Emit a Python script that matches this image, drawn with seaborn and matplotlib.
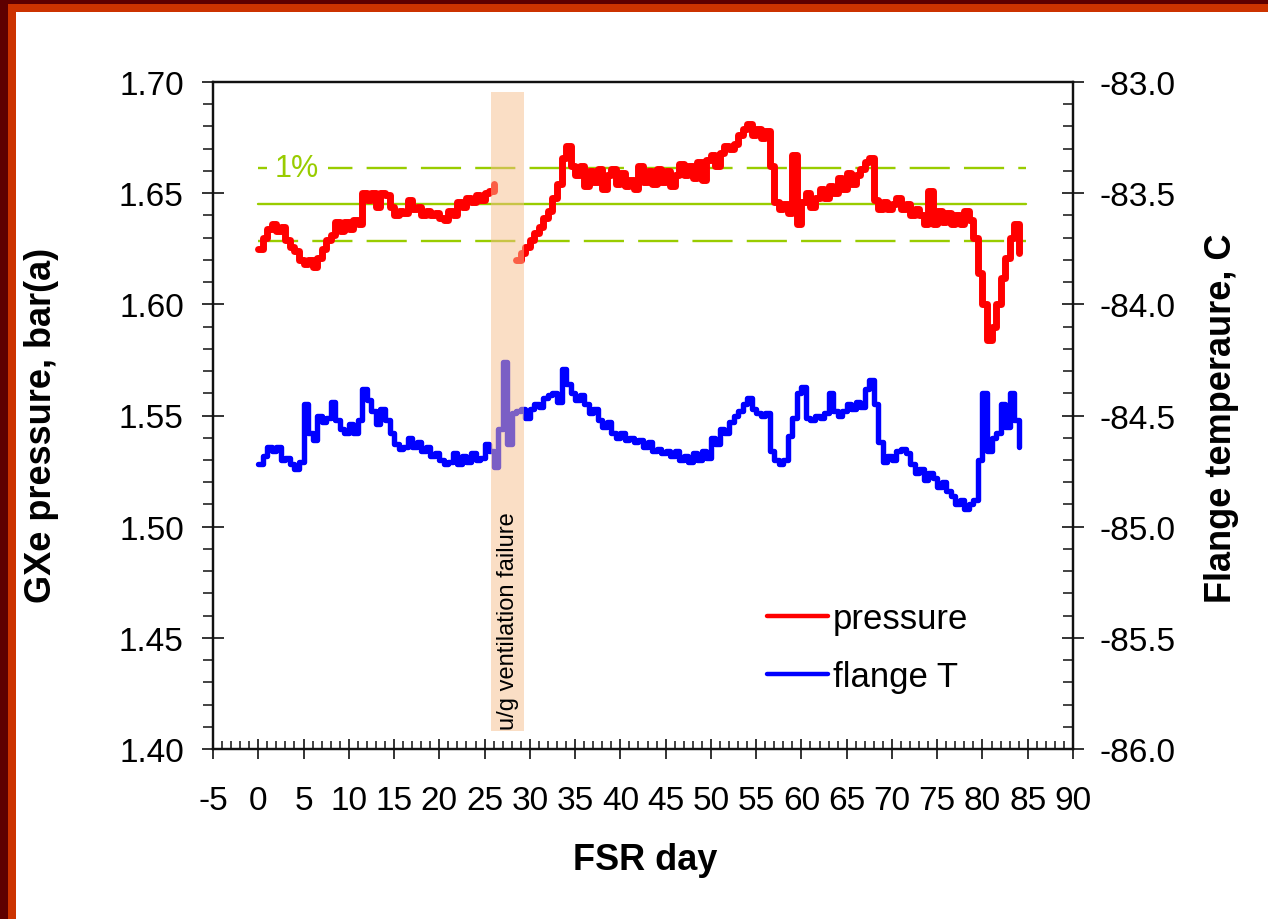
import numpy as np
import pandas as pd
import matplotlib
matplotlib.use("Agg")
import matplotlib.pyplot as plt
import seaborn as sns
from matplotlib.patches import Rectangle
from matplotlib.ticker import MultipleLocator, FormatStrFormatter

# ---------------- data ----------------
days = np.arange(0, 84.01, 0.5)

pressure = [
    1.625, 1.630, 1.634, 1.636, 1.633, 1.635, 1.629, 1.626, 1.624, 1.620,
    1.618, 1.620, 1.617, 1.621, 1.625, 1.629, 1.631, 1.637, 1.633, 1.637,
    1.634, 1.638, 1.636, 1.650, 1.647, 1.650, 1.644, 1.650, 1.649, 1.644,
    1.640, 1.642, 1.641, 1.647, 1.643, 1.644, 1.640, 1.642, 1.640, 1.641,
    1.639, 1.638, 1.642, 1.640, 1.646, 1.644, 1.648, 1.646, 1.649, 1.647,
    1.650, 1.651, 1.654, None, None, None, None, 1.620, 1.623, 1.626,
    1.629, 1.632, 1.635, 1.639, 1.642, 1.648, 1.654, 1.666, 1.671, 1.662,
    1.658, 1.662, 1.653, 1.660, 1.655, 1.661, 1.652, 1.658, 1.661, 1.654,
    1.659, 1.653, 1.656, 1.652, 1.662, 1.655, 1.660, 1.654, 1.661, 1.655,
    1.660, 1.653, 1.658, 1.663, 1.658, 1.662, 1.657, 1.664, 1.656, 1.665,
    1.667, 1.662, 1.668, 1.671, 1.670, 1.672, 1.676, 1.679, 1.681, 1.676,
    1.679, 1.675, 1.678, 1.662, 1.646, 1.643, 1.645, 1.641, 1.667, 1.636,
    1.646, 1.650, 1.644, 1.648, 1.652, 1.648, 1.653, 1.650, 1.657, 1.652,
    1.659, 1.654, 1.658, 1.661, 1.664, 1.666, 1.647, 1.643, 1.646, 1.643,
    1.645, 1.648, 1.643, 1.645, 1.640, 1.643, 1.640, 1.636, 1.651, 1.636,
    1.642, 1.637, 1.641, 1.636, 1.640, 1.636, 1.642, 1.638, 1.630, 1.614,
    1.600, 1.584, 1.590, 1.600, 1.612, 1.621, 1.630, 1.636, 1.623,
]

flange_T = [
    -84.72, -84.68, -84.64, -84.66, -84.64, -84.70, -84.69, -84.72, -84.74, -84.71,
    -84.45, -84.58, -84.61, -84.50, -84.53, -84.51, -84.44, -84.52, -84.56, -84.58,
    -84.54, -84.58, -84.52, -84.38, -84.43, -84.48, -84.54, -84.47, -84.52, -84.58,
    -84.63, -84.65, -84.64, -84.60, -84.64, -84.62, -84.66, -84.64, -84.68, -84.67,
    -84.70, -84.72, -84.71, -84.67, -84.72, -84.68, -84.71, -84.67, -84.70, -84.69,
    -84.63, -84.66, -84.73, -84.56, -84.26, -84.63, -84.49, -84.48, -84.47, -84.51,
    -84.47, -84.45, -84.46, -84.42, -84.41, -84.40, -84.44, -84.29, -84.36, -84.40,
    -84.43, -84.41, -84.45, -84.49, -84.47, -84.52, -84.55, -84.53, -84.58, -84.60,
    -84.58, -84.61, -84.60, -84.62, -84.61, -84.64, -84.62, -84.66, -84.65, -84.67,
    -84.66, -84.68, -84.66, -84.70, -84.68, -84.71, -84.67, -84.70, -84.66, -84.69,
    -84.60, -84.63, -84.56, -84.58, -84.53, -84.50, -84.48, -84.45, -84.42, -84.47,
    -84.49, -84.50, -84.49, -84.66, -84.70, -84.72, -84.70, -84.59, -84.51, -84.40,
    -84.37, -84.51, -84.52, -84.50, -84.51, -84.49, -84.40, -84.48, -84.50, -84.48,
    -84.45, -84.47, -84.44, -84.46, -84.38, -84.34, -84.45, -84.62, -84.71, -84.68,
    -84.70, -84.66, -84.65, -84.67, -84.72, -84.76, -84.74, -84.79, -84.76, -84.78,
    -84.82, -84.80, -84.84, -84.86, -84.90, -84.88, -84.92, -84.90, -84.88, -84.70,
    -84.40, -84.66, -84.60, -84.58, -84.45, -84.55, -84.40, -84.52, -84.64,
]

ref_pressure = 1.645      # nominal level (solid green)
ref_band = 0.01           # +/- 1 %
ref_days = [0, 84.8]

event_days = [25.7, 29.4]
event_label = "u/g ventilation failure"

x_ticks = list(range(-5, 91, 5))

# ---------------- style ----------------
sns.set_style("white")
plt.rcParams["font.family"] = ["Liberation Sans", "DejaVu Sans"]
plt.rcParams["axes.unicode_minus"] = False
plt.rcParams["text.color"] = "black"
plt.rcParams["axes.labelcolor"] = "black"
plt.rcParams["xtick.color"] = "black"
plt.rcParams["ytick.color"] = "black"

W, H = 1268, 920
fig = plt.figure(figsize=(W / 100, H / 100), dpi=100)
fig.patch.set_facecolor("#5e0000")
fig.add_artist(Rectangle((8 / W, 0), 1, (H - 5) / H, transform=fig.transFigure,
                         facecolor="#cc3300", edgecolor="none", zorder=-20))
fig.add_artist(Rectangle((16 / W, 0), 1, (H - 13) / H, transform=fig.transFigure,
                         facecolor="white", edgecolor="none", zorder=-19))

ax = fig.add_axes([213 / W, (H - 750) / H, (1073 - 213) / W, (750 - 83) / H])
ax.set_facecolor("white")
ax2 = ax.twinx()
ax2.set_facecolor("none")

df_p = pd.DataFrame({"day": days, "pressure": pd.to_numeric(pd.Series(pressure), errors="coerce")})
df_p["seg"] = (df_p["pressure"].isna()).cumsum()
df_p = df_p.dropna()
df_t = pd.DataFrame({"day": days, "T": flange_T})

green = "#99cc00"
# reference lines
ax.plot(ref_days, [ref_pressure] * 2, color=green, lw=1.7, zorder=2)
for k in (1, -1):
    ax.plot(ref_days, [ref_pressure * (1 + k * ref_band)] * 2, color=green, lw=1.7,
            linestyle=(0, (17, 6)), zorder=2)
ax.text(4.3, ref_pressure * (1 + ref_band), "1%", color=green, fontsize=22,
        ha="center", va="center", zorder=3,
        bbox=dict(facecolor="white", edgecolor="none", pad=6))

sns.lineplot(data=df_p, x="day", y="pressure", units="seg", estimator=None,
             color="#ff0000", lw=5.0, drawstyle="steps-post", ax=ax, zorder=4,
             legend=False)
sns.lineplot(data=df_t, x="day", y="T", estimator=None,
             color="#0000ff", lw=3.9, drawstyle="steps-post", ax=ax2, zorder=4,
             legend=False)

# event shading on top
ax2.axvspan(event_days[0], event_days[1], ymin=0.027, ymax=0.985,
            facecolor="#f7be8c", alpha=0.5, edgecolor="none", zorder=10)
ax2.text(sum(event_days) / 2, 0.193, event_label, transform=ax2.get_xaxis_transform(),
         rotation=90, ha="center", va="center", fontsize=17, color="black", zorder=11)

# axes limits & ticks
ax.set_xlim(-5, 90)
ax.set_ylim(1.40, 1.70)
ax2.set_ylim(-86, -83)
ax.set_xticks(x_ticks)
ax.xaxis.set_minor_locator(MultipleLocator(1))
ax.yaxis.set_major_locator(MultipleLocator(0.05))
ax.yaxis.set_minor_locator(MultipleLocator(0.01))
ax.yaxis.set_major_formatter(FormatStrFormatter("%.2f"))
ax2.yaxis.set_major_locator(MultipleLocator(0.5))
ax2.yaxis.set_minor_locator(MultipleLocator(0.1))
ax2.yaxis.set_major_formatter(FormatStrFormatter("%.1f"))

tc = "#111111"
ax.tick_params(axis="x", which="major", direction="inout", length=14, width=1.2,
               labelsize=24, pad=19, color=tc, labelcolor="black", bottom=True)
ax.tick_params(axis="x", which="minor", direction="in", length=5.5, width=1.1,
               color=tc, bottom=True)
ax.tick_params(axis="y", which="major", direction="inout", length=16, width=1.2,
               labelsize=24, pad=13, color=tc, labelcolor="black", left=True)
ax.tick_params(axis="y", which="minor", direction="out", length=7, width=1.1,
               color=tc, left=True)
ax2.tick_params(axis="y", which="major", direction="inout", length=16, width=1.2,
                labelsize=24, pad=11, color=tc, labelcolor="black", right=True)
ax2.tick_params(axis="y", which="minor", direction="in", length=7, width=1.1,
                color=tc, right=True)

for a in (ax, ax2):
    for s in a.spines.values():
        s.set_linewidth(1.6)
        s.set_color(tc)
        s.set_visible(True)

ax.set_xlabel("FSR day", fontsize=26, fontweight="bold", color="black")
ax.set_ylabel("GXe pressure, bar(a)", fontsize=26, fontweight="bold", color="black")
ax2.set_ylabel("Flange temperaure, C", fontsize=26, fontweight="bold", color="black")
ax.xaxis.set_label_coords(0.502, -0.165)
ax.yaxis.set_label_coords(-0.199, 0.487)
ax2.yaxis.set_label_coords(1.173, 0.498)
ax.yaxis.label.set_va("center")
ax2.yaxis.label.set_va("center")
ax.xaxis.label.set_va("center")

# legend
h1 = plt.Line2D([], [], color="#ff0000", lw=3.2)
h2 = plt.Line2D([], [], color="#0000ff", lw=3.2)
ax2.legend([h1, h2], ["pressure", "flange T"], loc="center left",
           bbox_to_anchor=(0.644, 0.152), frameon=False, fontsize=25,
           handlelength=1.75, handletextpad=0.15, labelspacing=0.72,
           borderpad=0, borderaxespad=0)

fig.savefig("out.png", dpi=100, facecolor=fig.get_facecolor())
